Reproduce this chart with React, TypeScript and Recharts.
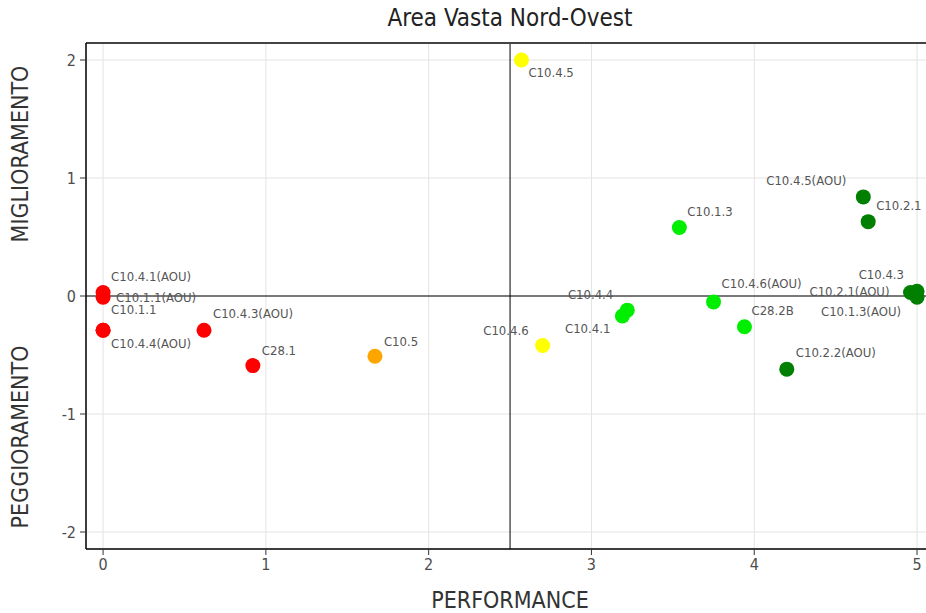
import {
  ScatterChart,
  Scatter,
  XAxis,
  YAxis,
  CartesianGrid,
  ReferenceLine,
} from "recharts";

const names = [
  "C10.4.5",
  "C10.4.1(AOU)",
  "C10.1.1(AOU)",
  "C10.1.1",
  "C10.4.4(AOU)",
  "C10.4.3(AOU)",
  "C28.1",
  "C10.5",
  "C10.4.6",
  "C10.4.4",
  "C10.4.1",
  "C10.1.3",
  "C10.4.6(AOU)",
  "C28.2B",
  "C10.2.2(AOU)",
  "C10.4.5(AOU)",
  "C10.2.1",
  "C10.4.3",
  "C10.2.1(AOU)",
  "C10.1.3(AOU)",
];
const performance = [
  2.57, 0, 0, 0, 0, 0.62, 0.92, 1.67, 2.7, 3.22, 3.19, 3.54, 3.75, 3.94, 4.2,
  4.67, 4.7, 5.0, 4.96, 5.0,
];
const improvement = [
  2.0, 0.03, -0.01, -0.29, -0.29, -0.29, -0.59, -0.51, -0.42, -0.12, -0.17,
  0.58, -0.05, -0.26, -0.62, 0.84, 0.63, 0.04, 0.03, -0.01,
];
const xTicks = [0, 1, 2, 3, 4, 5];
const yTicks = [-2, -1, 0, 1, 2];

// label placement: dx, dy from point centre, anchor
const labelPos: Record<string, [number, number, "start" | "end"]> = {
  "C10.4.5": [7, 13, "start"],
  "C10.4.1(AOU)": [8, -16, "start"],
  "C10.1.1(AOU)": [13, 0, "start"],
  "C10.1.1": [8, -21, "start"],
  "C10.4.4(AOU)": [8, 13, "start"],
  "C10.4.3(AOU)": [9, -17, "start"],
  "C28.1": [9, -15, "start"],
  "C10.5": [9, -15, "start"],
  "C10.4.6": [-14, -15, "end"],
  "C10.4.4": [-14, -16, "end"],
  "C10.4.1": [-12, 12, "end"],
  "C10.1.3": [8, -16, "start"],
  "C10.4.6(AOU)": [8, -18, "start"],
  "C28.2B": [7, -16, "start"],
  "C10.2.2(AOU)": [9, -17, "start"],
  "C10.4.5(AOU)": [-17, -16, "end"],
  "C10.2.1": [8, -16, "start"],
  "C10.4.3": [-13, -17, "end"],
  "C10.2.1(AOU)": [-21, -1, "end"],
  "C10.1.3(AOU)": [-16, 14, "end"],
};

const data = names.map((name, i) => ({
  name,
  x: performance[i],
  y: improvement[i],
}));

function fillFor(x: number) {
  if (x < 1) return "#ff0000";
  if (x < 2) return "#ffa500";
  if (x < 3) return "#ffff00";
  if (x < 4) return "#00ee00";
  return "#007f00";
}

const font = "'DejaVu Sans Condensed', 'Liberation Sans Narrow', sans-serif";
const tickStyle = { fontSize: 16, fill: "#4d4d4d", fontFamily: font };

function Dot(props: any) {
  const { cx, cy, payload } = props;
  const [dx, dy, anchor] = labelPos[payload.name] ?? [8, -16, "start"];
  return (
    <g>
      <circle cx={cx} cy={cy} r={7.5} fill={fillFor(payload.x)} />
      <text
        x={cx + dx}
        y={cy + dy}
        textAnchor={anchor}
        dominantBaseline="central"
        fontSize={13}
        fill="#555"
        fontFamily={font}
      >
        {payload.name}
      </text>
    </g>
  );
}

const titleStyle = {
  position: "absolute" as const,
  fontSize: 23,
  color: "#333",
  whiteSpace: "nowrap" as const,
};

export default function App() {
  return (
    <div
      style={{
        position: "relative",
        width: 926,
        height: 613,
        background: "#fff",
        fontFamily: font,
        overflow: "hidden",
      }}
    >
      <style>{"body{margin:0}"}</style>
      <div
        style={{
          position: "absolute",
          top: 4,
          left: 0,
          width: 1020,
          textAlign: "center",
          fontSize: 24,
          color: "#222",
        }}
      >
        Area Vasta Nord-Ovest
      </div>
      <ScatterChart
        width={932}
        height={613}
        margin={{ top: 43, right: 0, bottom: 0, left: 0 }}
      >
        <CartesianGrid stroke="#e3e3e3" />
        <XAxis
          type="number"
          dataKey="x"
          domain={[-0.105, 5.092]}
          ticks={xTicks}
          tick={tickStyle}
          tickLine={{ stroke: "#333" }}
          tickSize={6}
          tickMargin={4}
          axisLine={{ stroke: "#000", strokeWidth: 1.5 }}
          height={64}
          allowDataOverflow
        />
        <YAxis
          type="number"
          dataKey="y"
          domain={[-2.144, 2.144]}
          ticks={yTicks}
          tick={tickStyle}
          tickLine={{ stroke: "#333" }}
          tickSize={6}
          tickMargin={4}
          axisLine={{ stroke: "#000", strokeWidth: 1.5 }}
          width={86}
          allowDataOverflow
        />
        <Scatter data={data} shape={Dot} isAnimationActive={false} />
        <ReferenceLine x={2.5} stroke="#000" strokeWidth={1} />
        <ReferenceLine y={0} stroke="#000" strokeWidth={1} />
        <ReferenceLine y={2.144} stroke="#444" strokeWidth={2} />
      </ScatterChart>
      <div
        style={{
          ...titleStyle,
          top: 587,
          left: 0,
          width: 1020,
          textAlign: "center",
        }}
      >
        PERFORMANCE
      </div>
      <div
        style={{
          ...titleStyle,
          left: 20,
          top: 154,
          transform: "translate(-50%, -50%) rotate(-90deg)",
        }}
      >
        MIGLIORAMENTO
      </div>
      <div
        style={{
          ...titleStyle,
          left: 20,
          top: 437,
          transform: "translate(-50%, -50%) rotate(-90deg)",
        }}
      >
        PEGGIORAMENTO
      </div>
    </div>
  );
}
